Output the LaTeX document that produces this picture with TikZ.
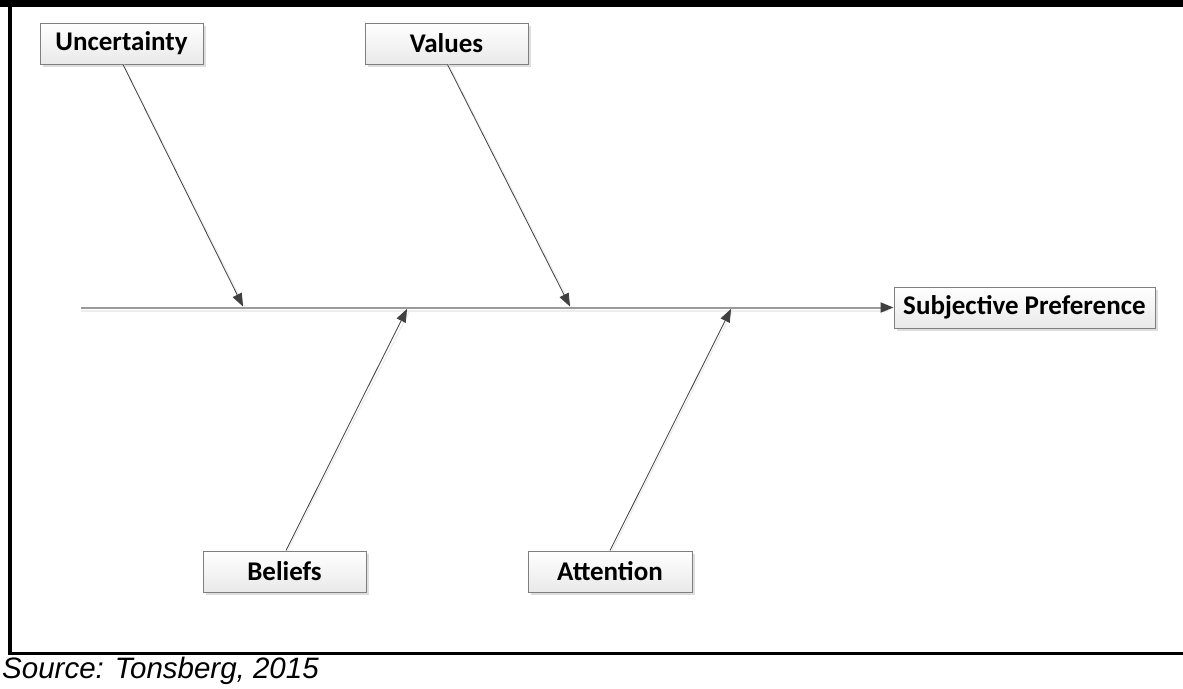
\documentclass[tikz,border=0pt]{standalone}
\usepackage{fontspec}
\setmainfont{Carlito}
\newfontfamily\srcfont{Liberation Sans}
\usetikzlibrary{arrows.meta,shadows,calc}

\definecolor{boxline}{HTML}{7F7F7F}
\definecolor{boxtop}{HTML}{FFFFFF}
\definecolor{boxbot}{HTML}{E9E9E9}
\definecolor{bone}{HTML}{404040}
\definecolor{spine}{HTML}{9A9A9A}
\definecolor{shade}{HTML}{DEDEDE}
\definecolor{faint}{HTML}{EDEDED}

\tikzset{
  cause/.style={draw=boxline, line width=1pt, top color=boxtop, bottom color=boxbot,
    minimum height=41pt, inner sep=0pt,
    font=\fontsize{27}{30}\selectfont\bfseries,
    drop shadow={shadow xshift=3pt, shadow yshift=-3pt, fill=shade, opacity=1}},
  tip/.style={-{Triangle[length=13pt,width=10pt,color=bone]}},
  bonearrow/.style={draw=bone, line width=0.8pt, tip},
  boneshade/.style={draw=faint, line width=1.2pt},
  frame/.style={fill=black, draw=none}
}

\begin{document}
\begin{tikzpicture}[x=1pt,y=-1pt]
  \useasboundingbox (0,0) rectangle (1183,688);
  \fill[white] (0,0) rectangle (1183,688);

  % outer frame: heavy top edge, left edge and the rule above the source line
  \fill[frame] (0,0) rectangle (1183,7);
  \fill[frame] (8,0) rectangle (11.5,655);
  \fill[frame] (8,651.5) rectangle (1183,655);

  % cause boxes and the effect box
  \node[cause, minimum width=163pt] (unc) at (121.5,43.5) {Uncertainty};
  \node[cause, minimum width=163pt] (val) at (446.5,43.5) {Values};
  \node[cause, minimum width=163pt] (bel) at (284.5,571.5) {Beliefs};
  \node[cause, minimum width=164pt] (att) at (610,571.5) {Attention};
  \node[cause, minimum width=261pt] (eff) at (1024.5,307.5) {Subjective Preference};

  % spine end point and the points where the bones meet the spine
  \coordinate (tail) at (81,307.5);
  \coordinate (uend) at (243,306.5);
  \coordinate (vend) at (570,306.5);
  \coordinate (bend) at (407,309);
  \coordinate (aend) at (731,309);

  % faint shadows under the spine and bones
  \draw[boneshade] ([yshift=-3.5pt]tail) -- ([yshift=-3.5pt,xshift=-6pt]eff.west);
  \draw[boneshade] ([xshift=2pt]unc.south) -- ([xshift=2pt,yshift=-1pt]uend);
  \draw[boneshade] ([xshift=2pt]val.south) -- ([xshift=2pt,yshift=-1pt]vend);
  \draw[boneshade] ([xshift=3pt]bel.north) -- ([xshift=3pt,yshift=-1pt]bend);
  \draw[boneshade] ([xshift=2pt]att.north) -- ([xshift=2pt,yshift=-1pt]aend);

  % spine
  \draw[draw=spine, line width=2pt, tip] (tail) -- (eff.west);

  % bones
  \draw[bonearrow] ([xshift=1.5pt]unc.south) -- (uend);
  \draw[bonearrow] ([xshift=1pt]val.south) -- (vend);
  \draw[bonearrow] ([xshift=1.5pt]bel.north) -- (bend);
  \draw[bonearrow] (att.north) -- (aend);

  % source line
  \node[anchor=west, inner sep=0pt, font=\srcfont\itshape\fontsize{29.5}{33}\selectfont]
    (src) at (2,671) {Source: Tonsberg, 2015};
\end{tikzpicture}
\end{document}
